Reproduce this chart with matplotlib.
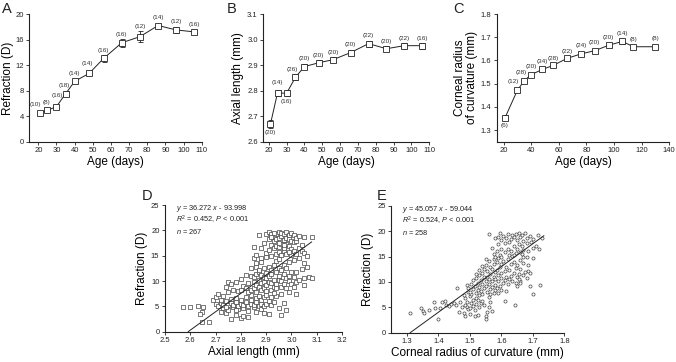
import numpy as np
import matplotlib
matplotlib.use('Agg')
import matplotlib.pyplot as plt

plt.rcParams['font.family'] = 'Liberation Sans'
plt.rcParams['mathtext.fontset'] = 'custom'
plt.rcParams['mathtext.rm'] = 'Liberation Sans'
plt.rcParams['mathtext.it'] = 'Liberation Sans:italic'
plt.rcParams['text.color'] = '#222222'

# ---- panel A/B/C : means by age ----
age = [21, 25, 30, 35, 40, 48, 56, 66, 76, 86, 96, 106]
refr = [4.5, 4.9, 5.5, 7.5, 9.45, 10.7, 13.05, 15.5, 16.45, 18.2, 17.5, 17.2]
refr_err = [0.3, 0.25, 0.3, 0.4, 0.3, 0.3, 0.5, 0.6, 0.9, 0.3, 0.5, 0.3]
refr_n = ['(10)', '(8)', '(16)', '(18)', '(14)', '(14)', '(16)', '(16)', '(12)', '(14)', '(12)', '(16)']

axl = [2.669, 2.792, 2.789, 2.852, 2.894, 2.909, 2.921, 2.949, 2.984, 2.964, 2.976, 2.976]
axl_err = [0.015, 0.012, 0.012, 0.012, 0.01, 0.01, 0.01, 0.01, 0.012, 0.01, 0.01, 0.012]
axl_n = ['(20)', '(14)', '(16)', '(26)', '(20)', '(20)', '(20)', '(20)', '(22)', '(20)', '(22)', '(16)']

age_c = [21, 30, 35, 40, 48, 56, 66, 76, 86, 96, 106, 114, 130]
crc = [1.353, 1.472, 1.513, 1.539, 1.561, 1.579, 1.609, 1.628, 1.642, 1.665, 1.682, 1.659, 1.659]
crc_err = [0.01, 0.01, 0.008, 0.008, 0.008, 0.008, 0.008, 0.008, 0.008, 0.008, 0.01, 0.008, 0.008]
crc_n = ['(6)', '(12)', '(28)', '(20)', '(34)', '(28)', '(22)', '(24)', '(20)', '(20)', '(14)', '(8)', '(8)']

# ---- panel D : refraction vs axial length ----
d_pts = [
    (2.57, 4.9), (2.60, 4.9), (2.63, 5.0), (2.65, 4.8), (2.645, 3.9), (2.64, 3.4), (2.645, 2.0), (2.675, 2.0),
    (2.69, 6.2), (2.70, 5.4), (2.70, 6.8), (2.71, 5.0), (2.72, 5.6), (2.72, 6.3), (2.73, 4.6), (2.73, 5.3),
    (2.74, 3.6), (2.74, 6.0), (2.75, 4.3), (2.75, 5.2), (2.75, 7.9), (2.76, 2.6), (2.76, 5.6), (2.76, 6.4),
    (2.77, 4.8), (2.77, 5.3), (2.78, 3.3), (2.78, 5.9), (2.78, 6.7), (2.79, 4.5), (2.79, 5.1), (2.80, 2.8),
    (2.80, 5.5), (2.80, 6.3), (2.81, 3.1), (2.81, 4.6), (2.81, 5.3), (2.82, 5.9), (2.82, 6.8), (2.83, 4.1),
    (2.83, 5.0), (2.84, 5.5), (2.84, 6.3), (2.84, 7.2), (2.85, 4.8), (2.85, 5.2), (2.86, 3.9), (2.86, 5.8),
    (2.86, 6.6), (2.87, 5.1), (2.87, 7.0), (2.88, 4.5), (2.88, 5.5), (2.88, 6.2), (2.89, 5.0), (2.89, 6.8),
    (2.90, 5.4), (2.90, 7.3), (2.91, 3.4), (2.91, 6.0), (2.92, 5.2), (2.92, 6.9), (2.93, 5.8), (2.94, 7.1),
    (2.95, 4.6), (2.96, 3.2), (2.97, 5.6), (2.98, 4.2), (2.72, 3.9), (2.74, 4.8), (2.83, 2.9), (2.78, 4.2),
    (2.71, 7.5), (2.73, 7.0), (2.89, 3.7),
    (2.74, 8.9), (2.75, 9.9), (2.76, 9.5), (2.77, 8.3), (2.78, 9.9), (2.79, 8.0), (2.80, 8.2), (2.80, 10.4),
    (2.81, 9.1), (2.82, 8.6), (2.82, 11.1), (2.83, 7.8), (2.83, 9.6), (2.84, 8.2), (2.84, 11.0), (2.84, 12.6),
    (2.85, 8.6), (2.85, 9.9), (2.85, 10.7), (2.86, 7.9), (2.86, 9.3), (2.86, 11.3), (2.86, 12.8), (2.86, 13.6),
    (2.87, 8.9), (2.87, 10.2), (2.87, 11.8), (2.87, 12.2), (2.88, 8.3), (2.88, 9.6), (2.88, 11.2), (2.88, 13.8),
    (2.89, 8.6), (2.89, 9.9), (2.89, 10.8), (2.89, 12.6), (2.90, 8.1), (2.90, 9.2), (2.90, 10.5), (2.90, 11.5),
    (2.91, 9.8), (2.91, 10.9), (2.91, 12.8), (2.92, 8.2), (2.92, 9.6), (2.92, 11.4), (2.92, 12.2), (2.93, 8.8),
    (2.93, 10.2), (2.93, 13.2), (2.94, 8.6), (2.94, 9.5), (2.94, 11.8), (2.94, 14.0), (2.95, 10.3), (2.95, 11.0),
    (2.95, 12.6), (2.95, 14.4), (2.96, 8.9), (2.96, 10.0), (2.96, 12.2), (2.97, 9.4), (2.97, 11.3), (2.97, 13.2),
    (2.98, 8.6), (2.98, 10.5), (2.98, 12.5), (2.99, 10.0), (2.99, 11.0), (2.99, 13.8), (3.00, 9.5), (3.00, 11.7),
    (3.01, 8.9), (3.01, 10.8), (3.01, 14.1), (3.02, 9.8), (3.02, 11.8), (3.03, 10.2), (3.03, 14.5), (3.04, 12.3),
    (3.05, 9.2), (3.05, 10.6), (3.05, 13.5), (3.06, 12.8), (3.07, 10.8), (3.08, 10.5), (2.93, 7.7), (2.96, 7.5),
    (2.99, 7.9), (3.02, 7.4),
    (2.85, 14.6), (2.85, 16.8), (2.86, 15.1), (2.87, 19.0), (2.88, 14.5), (2.88, 16.6), (2.89, 17.6), (2.90, 15.6),
    (2.90, 19.2), (2.91, 16.1), (2.91, 18.2), (2.91, 19.6), (2.92, 15.0), (2.92, 17.2), (2.92, 19.3), (2.93, 16.5),
    (2.93, 17.9), (2.93, 18.8), (2.94, 15.4), (2.94, 17.0), (2.94, 18.2), (2.94, 19.2), (2.95, 15.7), (2.95, 16.8),
    (2.95, 18.5), (2.95, 19.7), (2.96, 15.1), (2.96, 17.3), (2.96, 18.8), (2.96, 19.5), (2.97, 16.0), (2.97, 16.5),
    (2.97, 18.0), (2.97, 19.2), (2.98, 15.4), (2.98, 17.4), (2.98, 18.4), (2.98, 19.6), (2.99, 16.9), (2.99, 18.2),
    (2.99, 19.0), (3.00, 15.1), (3.00, 16.4), (3.00, 17.8), (3.00, 19.4), (3.01, 16.0), (3.01, 17.7), (3.01, 19.0),
    (3.02, 15.3), (3.02, 17.9), (3.02, 18.5), (3.03, 16.6), (3.03, 18.8), (3.04, 16.0), (3.04, 17.2), (3.05, 15.6),
    (3.05, 18.7), (3.06, 15.0), (3.08, 18.7), (2.93, 19.5), (2.95, 17.6), (2.97, 17.1), (2.92, 18.6), (2.99, 15.7),
    (2.90, 14.8),
]
d_x = [p[0] for p in d_pts]
d_y = [p[1] for p in d_pts]

# ---- panel E : refraction vs corneal radius ----
e_pts = [
    (1.31, 3.8), (1.345, 4.9), (1.35, 4.3), (1.355, 3.9), (1.37, 4.5), (1.385, 6.1), (1.39, 4.8), (1.40, 2.7),
    (1.405, 4.9), (1.41, 6.0), (1.42, 6.2), (1.425, 5.5), (1.435, 5.3), (1.44, 5.6), (1.45, 5.8), (1.455, 5.5),
    (1.46, 8.8), (1.465, 4.1), (1.47, 6.1), (1.475, 5.0),
    (1.48, 3.8), (1.485, 5.5), (1.485, 3.2), (1.49, 6.1), (1.49, 5.0), (1.495, 4.6), (1.50, 3.6), (1.50, 4.9),
    (1.505, 5.8), (1.51, 6.5), (1.51, 5.2), (1.515, 3.2), (1.515, 4.5), (1.52, 5.6), (1.52, 6.8), (1.525, 6.4),
    (1.525, 3.5), (1.53, 7.4), (1.53, 5.0), (1.535, 5.9), (1.54, 6.2), (1.54, 7.7), (1.545, 5.4), (1.55, 3.2),
    (1.55, 2.7), (1.555, 4.1), (1.56, 7.0), (1.56, 5.0), (1.565, 6.0), (1.57, 4.3), (1.575, 7.8), (1.58, 8.4),
    (1.50, 7.2), (1.495, 8.0), (1.505, 7.7), (1.485, 6.8), (1.48, 7.5),
    (1.49, 9.4), (1.495, 8.9), (1.50, 8.1), (1.505, 9.6), (1.51, 8.7), (1.51, 10.3), (1.515, 9.2), (1.52, 7.9),
    (1.52, 10.7), (1.525, 8.5), (1.525, 9.9), (1.53, 9.1), (1.53, 11.3), (1.535, 8.3), (1.535, 10.4), (1.54, 9.6),
    (1.54, 11.8), (1.545, 8.8), (1.545, 10.9), (1.545, 12.6), (1.55, 9.3), (1.55, 10.1), (1.55, 13.4), (1.555, 8.1),
    (1.555, 11.0), (1.555, 12.1), (1.56, 9.7), (1.56, 10.6), (1.56, 14.2), (1.565, 8.7), (1.565, 11.5), (1.565, 13.0),
    (1.57, 9.1), (1.57, 10.2), (1.57, 12.6), (1.575, 11.0), (1.575, 13.6), (1.575, 14.6), (1.58, 9.5), (1.58, 10.6),
    (1.58, 11.9), (1.585, 8.8), (1.585, 12.4), (1.585, 13.9), (1.59, 10.2), (1.59, 11.3), (1.59, 14.8), (1.595, 9.3),
    (1.595, 12.9), (1.60, 10.8), (1.60, 11.7), (1.60, 13.5), (1.605, 9.9), (1.605, 14.2), (1.61, 10.4), (1.61, 12.2),
    (1.615, 11.0), (1.615, 13.0), (1.62, 9.7), (1.62, 14.5), (1.625, 10.6), (1.625, 12.4), (1.63, 11.2), (1.63, 13.6),
    (1.635, 10.1), (1.64, 11.8), (1.64, 14.0), (1.645, 9.8), (1.645, 12.8), (1.65, 10.9), (1.65, 13.3), (1.655, 11.6),
    (1.66, 12.6), (1.66, 10.2), (1.54, 13.2), (1.53, 12.3), (1.52, 11.6), (1.55, 14.6), (1.565, 7.6), (1.59, 7.9),
    (1.60, 8.5), (1.615, 8.2),
    (1.613, 6.3), (1.644, 5.5), (1.65, 9.3), (1.66, 9.8), (1.67, 11.4), (1.68, 10.7), (1.685, 12.2), (1.685, 13.4),
    (1.69, 9.2), (1.70, 7.6), (1.70, 14.8), (1.68, 15.0), (1.67, 13.7), (1.675, 12.0), (1.723, 9.5), (1.69, 11.8),
    (1.66, 14.3), (1.665, 15.5), (1.655, 10.5),
    (1.56, 19.4), (1.57, 16.8), (1.575, 15.6), (1.58, 18.6), (1.585, 16.2), (1.59, 17.4), (1.59, 18.9), (1.595, 15.3),
    (1.60, 16.6), (1.60, 18.2), (1.605, 19.0), (1.61, 15.9), (1.61, 17.7), (1.615, 18.7), (1.62, 16.5), (1.62, 19.5),
    (1.625, 15.4), (1.625, 17.9), (1.63, 18.5), (1.63, 16.2), (1.635, 19.2), (1.64, 17.1), (1.64, 18.8), (1.645, 15.7),
    (1.645, 19.4), (1.65, 16.6), (1.65, 18.3), (1.655, 17.5), (1.655, 19.7), (1.66, 15.9), (1.66, 18.9), (1.665, 17.2),
    (1.665, 19.3), (1.67, 16.3), (1.67, 18.1), (1.675, 19.6), (1.68, 17.6), (1.68, 18.7), (1.685, 16.2), (1.69, 19.0),
    (1.695, 17.8), (1.70, 18.5), (1.70, 16.7), (1.71, 17.2), (1.72, 16.6), (1.73, 18.6), (1.715, 19.3), (1.58, 15.0),
    (1.60, 15.0), (1.635, 15.1), (1.595, 19.6), (1.64, 15.4), (1.67, 15.0),
]
e_x = [p[0] for p in e_pts]
e_y = [p[1] for p in e_pts]

fit_d = (36.272, -93.998)
fit_e = (45.057, -59.044)

ink = '#222222'
fig = plt.figure(figsize=(6.76, 3.62), dpi=100)


def style(ax):
    ax.spines['top'].set_visible(False)
    ax.spines['right'].set_visible(False)
    for s in ('left', 'bottom'):
        ax.spines[s].set_linewidth(0.8)
        ax.spines[s].set_color(ink)
    ax.tick_params(direction='out', length=2.5, width=0.6, labelsize=5.5, colors=ink, pad=1.5)


def age_panel(ax, x, y, err, labels, offs):
    ax.plot(x, y, color=ink, lw=0.7, zorder=2)
    ax.errorbar(x, y, yerr=err, fmt='s', mfc='white', mec=ink, mew=0.6, ms=4.5,
                ecolor=ink, elinewidth=0.6, capsize=1.8, capthick=0.6, zorder=3)
    for xi, yi, lab, (dx, dy) in zip(x, y, labels, offs):
        ax.annotate(lab, (xi, yi), xytext=(dx, dy), textcoords='offset points',
                    ha='center', va='center', fontsize=4.6, color='#333333')


# A
axA = fig.add_axes([0.0433, 0.6086, 0.2550, 0.3527])
style(axA)
offA = [(-3.5, 6), (-1, 6), (0.5, 8), (-1, 6), (0, 6), (-1, 7), (0, 6), (0, 6), (0, 7.5), (0, 6), (0, 6), (0, 5.5)]
age_panel(axA, age, refr, refr_err, refr_n, offA)
axA.set_xlim(15, 110)
axA.set_ylim(0, 20)
axA.set_xticks(range(20, 111, 10))
axA.set_yticks(range(0, 21, 4))
axA.set_xlabel('Age (days)', fontsize=8.5, labelpad=1)
axA.set_ylabel('Refraction (D)', fontsize=8.5, labelpad=1)

# B
axB = fig.add_axes([0.3895, 0.6086, 0.2455, 0.3527])
style(axB)
offB = [(0, -6.2), (0, 7), (0, -5.5), (-2, 5.5), (0, 5.5), (0, 5.5), (0, 5.5), (0, 5.5), (0, 6), (0, 5.5), (0, 5.5), (0, 5.5)]
age_panel(axB, age, axl, axl_err, axl_n, offB)
axB.set_xlim(17, 110)
axB.set_ylim(2.6, 3.1)
axB.set_xticks(range(20, 111, 10))
axB.set_yticks(np.arange(2.6, 3.11, 0.1))
axB.set_yticklabels(['2.6', '2.7', '2.8', '2.9', '3.0', '3.1'])
axB.set_xlabel('Age (days)', fontsize=8.5, labelpad=1)
axB.set_ylabel('Axial length (mm)', fontsize=8.5, labelpad=2)

# C
axC = fig.add_axes([0.7348, 0.6086, 0.2552, 0.3527])
style(axC)
offC = [(0, -5.5), (-3, 6), (-2.5, 5.8), (0, 5.8), (0, 5.5), (0, 5), (0, 5), (0, 6), (0, 6), (0, 6), (0, 6), (0, 5.5), (0, 6)]
age_panel(axC, age_c, crc, crc_err, crc_n, offC)
axC.set_xlim(15, 140)
axC.set_ylim(1.25, 1.8)
axC.set_xticks(range(20, 141, 20))
axC.set_yticks(np.arange(1.3, 1.81, 0.1))
axC.set_yticklabels(['1.3', '1.4', '1.5', '1.6', '1.7', '1.8'])
axC.set_xlabel('Age (days)', fontsize=8.5, labelpad=1)
axC.set_ylabel('Corneal radius\nof curvature (mm)', fontsize=8.5, labelpad=2, linespacing=1.0)


def scatter_panel(ax, x, y, marker, fit, xr, lines):
    ax.scatter(x, y, s=5, marker=marker, facecolors='white', edgecolors='#444444', linewidths=0.5, zorder=2)
    xs = np.array(xr)
    ax.plot(xs, fit[0] * xs + fit[1], color=ink, lw=0.7, zorder=3)
    for i, t in enumerate(lines):
        ax.text(0.06, 0.975 - i * 0.093, t, transform=ax.transAxes, fontsize=5.3, va='center', ha='left')


# D
axD = fig.add_axes([0.2441, 0.0837, 0.2618, 0.35])
style(axD)
scatter_panel(axD, d_x, d_y, 's', fit_d, [2.592, 3.08],
              [r'$\it{y}$ = 36.272 $\it{x}$ - 93.998', r'$\it{R}^2$ = 0.452, $\it{P}$ < 0.001', r'$\it{n}$ = 267'])
axD.set_xlim(2.5, 3.2)
axD.set_ylim(0, 25)
axD.set_xticks(np.arange(2.5, 3.21, 0.1))
axD.set_xticklabels(['2.5', '2.6', '2.7', '2.8', '2.9', '3.0', '3.1', '3.2'])
axD.set_yticks(range(0, 26, 5))
axD.set_xlabel('Axial length (mm)', fontsize=8.5, labelpad=1)
axD.set_ylabel('Refraction (D)', fontsize=8.5, labelpad=2)

# E
axE = fig.add_axes([0.5787, 0.081, 0.2561, 0.35])
style(axE)
scatter_panel(axE, e_x, e_y, 'o', fit_e, [1.3105, 1.735],
              [r'$\it{y}$ = 45.057 $\it{x}$ - 59.044', r'$\it{R}^2$ = 0.524, $\it{P}$ < 0.001', r'$\it{n}$ = 258'])
axE.set_xlim(1.25, 1.8)
axE.set_ylim(0, 25)
axE.set_xticks(np.arange(1.3, 1.81, 0.1))
axE.set_xticklabels(['1.3', '1.4', '1.5', '1.6', '1.7', '1.8'])
axE.set_yticks(range(0, 26, 5))
axE.set_xlabel('Corneal radius of curvature (mm)', fontsize=8.5, labelpad=1)
axE.set_ylabel('Refraction (D)', fontsize=8.5, labelpad=2)

# panel letters
for lab, px, py in [('A', 2, 2), ('B', 227, 2), ('C', 453, 2), ('D', 142, 189), ('E', 377, 189)]:
    fig.text(px / 676, 1 - py / 362, lab, fontsize=10.5, ha='left', va='top', color=ink)

fig.savefig('out.png', dpi=100)
